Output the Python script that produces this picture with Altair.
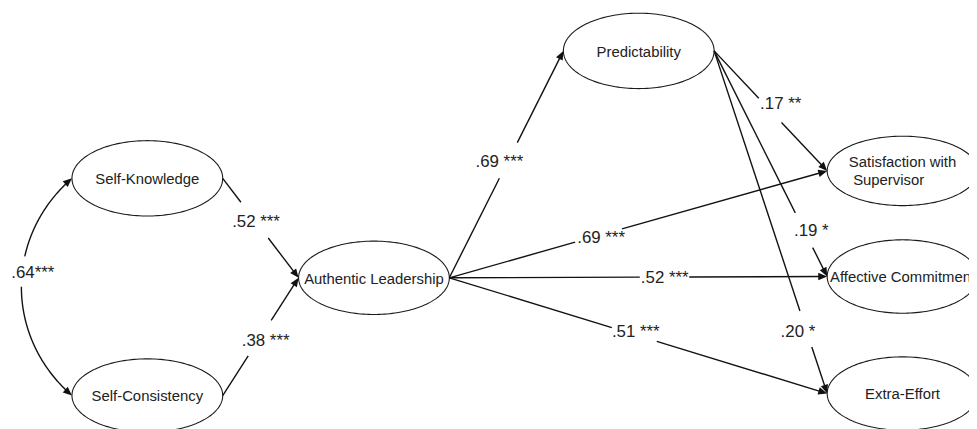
import altair as alt
import pandas as pd
import numpy as np

# ---------------- content ----------------
node_names = ["Self-Knowledge", "Self-Consistency", "Authentic Leadership", "Predictability",
              "Satisfaction with Supervisor", "Affective Commitment", "Extra-Effort"]
node_lines = [["Self-Knowledge"], ["Self-Consistency"], ["Authentic Leadership"], ["Predictability"],
              ["Satisfaction with", " Supervisor"], ["Affective Commitment"], ["Extra-Effort"]]

edge_from = [0, 1, 2, 2, 2, 2, 3, 3, 3]
edge_to = [2, 2, 3, 4, 5, 6, 4, 5, 6]
edge_coef = [".52", ".38", ".69", ".69", ".52", ".51", ".17", ".19", ".20"]
edge_sig = ["***", "***", "***", "***", "***", "***", "**", "*", "*"]

corr_pair = [0, 1]
corr_coef = ".64"
corr_sig = "***"

# ---------------- layout (pixels of the page) ----------------
node_cx = [148.5, 148.5, 377, 644, 910, 910, 910]
node_cy = [178, 397, 278.3, 49.5, 170.5, 277, 395]
node_rx = [76, 76, 76, 76, 76, 76, 76]
node_ry = [38, 37, 37, 38, 35, 37, 37]
line_dx = [[0], [0], [0], [0], [0, -14], [0], [0]]
line_dy = [[1], [1], [1], [1], [-8.8, 9.5], [1], [1]]

label_t = [0.439, 0.466, 0.513, 0.4016, 0.57, 0.4934, 0.44, 0.798, 0.8177]
label_dx = [0, 7.6, -8.5, 0, 0, 0, 17, 7, -8.7]
label_dy = [0.5, 0.5, 0.5, 3.5, 0.5, -2.5, 0.8, 0.5, 0.5]
gap_t0 = [0.24, 0.336, 0.439, 0.333, 0.504, 0.430, 0.395, 0.718, 0.759]
gap_t1 = [0.60, 0.639, 0.596, 0.457, 0.635, 0.549, 0.596, 0.872, 0.864]

corr_ctrl = [68, 59]
corr_gap = [257, 287]
corr_label_xy = [33, 273.5]

ARROW_LEN = 9.0
ARROW = "M0,0 L0.42,1 L-0.42,1 Z"

# ---------------- build tables ----------------
ell_rows = []
theta = np.linspace(0, 2 * np.pi, 181)
for k, name in enumerate(node_names):
    for i, th in enumerate(theta):
        ell_rows.append({"node": name, "i": i,
                         "x": node_cx[k] + node_rx[k] * np.cos(th),
                         "y": node_cy[k] + node_ry[k] * np.sin(th)})
ell_df = pd.DataFrame(ell_rows)

node_txt = []
for k in range(len(node_names)):
    for j, ln in enumerate(node_lines[k]):
        node_txt.append({"t": ln, "x": node_cx[k] + line_dx[k][j], "y": node_cy[k] + line_dy[k][j]})
node_txt_df = pd.DataFrame(node_txt)

seg_rows = []
head_rows = []
lab_rows = []


def angle_of(dx, dy):
    return float(np.degrees(np.arctan2(dx, -dy)) % 360)


for e in range(len(edge_from)):
    s, t = edge_from[e], edge_to[e]
    x0, y0 = node_cx[s] + node_rx[s], node_cy[s]
    x1, y1 = node_cx[t] - node_rx[t], node_cy[t]
    L = np.hypot(x1 - x0, y1 - y0)
    tend = 1 - 5.0 / L
    pieces = [(0.0, gap_t0[e]), (gap_t1[e], tend)]
    for p, (a, b) in enumerate(pieces):
        for i, tt in enumerate([a, b]):
            seg_rows.append({"seg": f"e{e}_{p}", "i": i,
                             "x": x0 + (x1 - x0) * tt, "y": y0 + (y1 - y0) * tt})
    head_rows.append({"x": x1, "y": y1, "ang": angle_of(x1 - x0, y1 - y0)})
    tl = label_t[e]
    lab_rows.append({"t": f"{edge_coef[e]} {edge_sig[e]}",
                     "x": x0 + (x1 - x0) * tl + label_dx[e],
                     "y": y0 + (y1 - y0) * tl + label_dy[e]})

# correlation curve (cubic Bezier between the two exogenous factors)
a_, b_ = corr_pair
P0 = np.array([node_cx[a_] - node_rx[a_], node_cy[a_]])
P3 = np.array([node_cx[b_] - node_rx[b_], node_cy[b_]])
P1 = P0 + np.array([-corr_ctrl[0], corr_ctrl[1]])
P2 = P3 + np.array([-corr_ctrl[0], -corr_ctrl[1]])
ts = np.linspace(0, 1, 400)
B = ((1 - ts) ** 3)[:, None] * P0 + (3 * ts * (1 - ts) ** 2)[:, None] * P1 + \
    (3 * ts ** 2 * (1 - ts))[:, None] * P2 + (ts ** 3)[:, None] * P3
d0 = np.hypot(B[:, 0] - P0[0], B[:, 1] - P0[1])
d3 = np.hypot(B[:, 0] - P3[0], B[:, 1] - P3[1])
keep_top = (B[:, 1] < corr_gap[0]) & (d0 > 5)
keep_bot = (B[:, 1] > corr_gap[1]) & (d3 > 5)
for name, mask in [("c_top", keep_top), ("c_bot", keep_bot)]:
    pts = B[mask]
    for i, (px, py) in enumerate(pts):
        seg_rows.append({"seg": name, "i": i, "x": px, "y": py})
head_rows.append({"x": P0[0], "y": P0[1], "ang": angle_of(P0[0] - P1[0], P0[1] - P1[1])})
head_rows.append({"x": P3[0], "y": P3[1], "ang": angle_of(P3[0] - P2[0], P3[1] - P2[1])})
lab_rows.append({"t": f"{corr_coef}{corr_sig}", "x": corr_label_xy[0], "y": corr_label_xy[1]})

seg_df = pd.DataFrame(seg_rows)
head_df = pd.DataFrame(head_rows)
lab_df = pd.DataFrame(lab_rows)

# ---------------- chart ----------------
X = alt.X("x:Q", scale=alt.Scale(domain=[8, 977], nice=False, zero=False), axis=None)
Y = alt.Y("y:Q", scale=alt.Scale(domain=[8, 429], nice=False, zero=False, reverse=True), axis=None)

ellipses = alt.Chart(ell_df).mark_line(color="#1a1a1a", strokeWidth=1.1).encode(
    x=X, y=Y, detail="node:N", order="i:Q")

segments = alt.Chart(seg_df).mark_line(color="#111111", strokeWidth=1.4).encode(
    x=X, y=Y, detail="seg:N", order="i:Q")

heads = alt.Chart(head_df).mark_point(shape=ARROW, filled=True, size=(2 * ARROW_LEN) ** 2,
                                      color="#111111", opacity=1, strokeWidth=0).encode(
    x=X, y=Y, angle=alt.Angle("ang:Q", scale=None))

node_text = alt.Chart(node_txt_df).mark_text(font="Liberation Sans", fontSize=15, color="#222222",
                                             baseline="middle", align="center").encode(
    x=X, y=Y, text="t:N")

coef_text = alt.Chart(lab_df).mark_text(font="Liberation Sans", fontSize=17, color="#222222",
                                        baseline="middle", align="center").encode(
    x=X, y=Y, text="t:N")

chart = alt.layer(ellipses, segments, heads, node_text, coef_text).properties(
    width=969, height=421, padding=0, background="white",
    autosize=alt.AutoSizeParams(type="none")
).configure_view(stroke=None)

chart.save("out.html", embed_options={"renderer": "svg", "actions": False})
